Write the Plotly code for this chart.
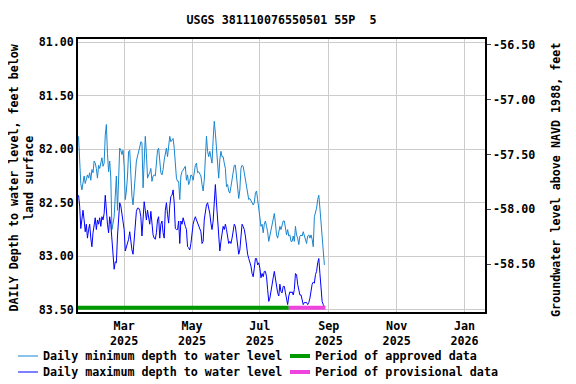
import pandas as pd
import plotly.graph_objects as go

# daily values, one per day starting at start_date (feet below land surface)
start_date = "2025-01-19"
min_depth = [
    81.88, 82.10, 82.32, 82.38, 82.29, 82.25, 82.32, 82.29, 82.24, 82.27,
    82.22, 82.29, 82.19, 82.22, 82.11, 82.13, 82.18, 82.27, 82.15, 82.18,
    82.13, 82.08, 82.16, 82.13, 81.87, 81.77, 82.04, 82.21, 82.11, 82.27,
    82.75, 82.66, 82.63, 82.44, 82.25, 82.57, 82.25, 81.99, 82.01, 82.05,
    82.01, 82.16, 82.47, 82.39, 82.25, 82.02, 82.01, 82.29, 82.44, 82.52,
    82.41, 82.25, 82.11, 82.07, 82.04, 81.98, 81.93, 81.94, 82.36, 82.07,
    81.88, 82.04, 82.27, 82.24, 82.22, 82.18, 82.30, 82.25, 82.24, 82.25,
    82.11, 82.01, 81.99, 82.16, 82.22, 82.24, 82.19, 82.10, 82.04, 81.99,
    82.07, 81.98, 81.88, 81.93, 81.91, 81.90, 81.99, 82.16, 82.27, 82.30,
    82.30, 82.47, 82.25, 82.21, 82.19, 82.18, 82.16, 82.29, 82.24, 82.33,
    82.30, 82.24, 82.25, 82.29, 82.21, 82.15, 82.13, 82.22, 82.21, 82.24,
    82.25, 82.33, 82.39, 82.29, 82.04, 81.88, 82.02, 82.07, 82.02, 82.08,
    82.13, 81.91, 81.74, 81.85, 82.01, 82.16, 82.27, 82.10, 82.02, 82.07,
    82.07, 82.13, 82.18, 82.35, 82.33, 82.39, 82.41, 82.35, 82.29, 82.21,
    82.15, 82.15, 82.24, 82.35, 82.46, 82.38, 82.18, 82.15, 82.16, 82.22,
    82.29, 82.36, 82.44, 82.47, 82.46, 82.49, 82.50, 82.52, 82.50, 82.41,
    82.39, 82.47, 82.55, 82.63, 82.72, 82.70, 82.78, 82.70, 82.67, 82.72,
    82.77, 82.86, 82.81, 82.74, 82.70, 82.64, 82.60, 82.69, 82.80, 82.83,
    82.77, 82.72, 82.75, 82.70, 82.67, 82.67, 82.72, 82.80, 82.75, 82.81,
    82.80, 82.86, 82.86, 82.81, 82.86, 82.72, 82.80, 82.83, 82.89, 82.81,
    82.80, 82.81, 82.77, 82.81, 82.84, 82.88, 82.81, 82.80, 82.83, 82.80,
    82.84, 82.91, 82.63, 82.60, 82.55, 82.47, 82.43, 82.55, 82.70, 82.88,
    82.98, 83.08,
]
max_depth = [
    82.43, 82.53, 82.74, 82.63, 82.57, 82.66, 82.77, 82.70, 82.83, 82.75,
    82.70, 82.83, 82.91, 82.78, 82.72, 82.64, 82.75, 82.66, 82.70, 82.64,
    82.72, 82.63, 82.66, 82.60, 82.43, 82.63, 82.70, 82.78, 82.63, 82.70,
    82.88, 83.06, 83.12, 83.05, 83.06, 82.81, 82.66, 82.50, 82.53, 82.60,
    82.66, 82.75, 82.95, 82.92, 82.89, 82.84, 82.77, 82.88, 82.94, 82.98,
    82.86, 82.70, 82.58, 82.55, 82.55, 82.57, 82.63, 82.81, 82.63, 82.49,
    82.57, 82.66, 82.57, 82.66, 82.70, 82.58, 82.74, 82.80, 82.83, 82.84,
    82.78, 82.66, 82.63, 82.83, 82.70, 82.67, 82.78, 82.83, 82.57, 82.50,
    82.61, 82.69, 82.53, 82.44, 82.43, 82.38, 82.50, 82.74, 82.75, 82.75,
    82.67, 82.88, 82.67, 82.70, 82.64, 82.70, 82.72, 82.75, 82.91, 82.92,
    82.94, 82.88, 82.75, 82.70, 82.66, 82.63, 82.66, 82.69, 82.72, 82.75,
    82.77, 82.88, 82.86, 82.66, 82.57, 82.52, 82.50, 82.55, 82.60, 82.69,
    82.75, 82.67, 82.44, 82.33, 82.50, 82.66, 82.89, 82.95, 82.86, 82.80,
    82.72, 82.75, 82.70, 82.75, 82.84, 82.88, 82.86, 82.88, 82.83, 82.74,
    82.70, 82.72, 82.83, 82.94, 82.98, 82.94, 82.83, 82.70, 82.72, 82.75,
    82.81, 82.91, 82.98, 83.02, 83.06, 83.09, 83.16, 83.19, 83.11, 83.02,
    83.02, 83.08, 83.06, 83.11, 83.20, 83.16, 83.19, 83.14, 83.14, 83.19,
    83.31, 83.42, 83.39, 83.31, 83.28, 83.20, 83.14, 83.22, 83.26, 83.34,
    83.37, 83.26, 83.33, 83.34, 83.28, 83.28, 83.34, 83.40, 83.45, 83.37,
    83.33, 83.34, 83.33, 83.36, 83.31, 83.16, 83.17, 83.26, 83.33, 83.36,
    83.36, 83.40, 83.45, 83.43, 83.43, 83.43, 83.45, 83.43, 83.39, 83.31,
    83.26, 83.24, 83.25, 83.17, 83.14, 83.06, 83.02, 83.16, 83.29, 83.42,
    83.45, 83.47,
]

approved_dates = ["2025-01-18", "2025-07-27"]
provisional_dates = ["2025-07-27", "2025-08-29"]
period_depth = 83.48

tick_dates = ["2025-03-01", "2025-05-01", "2025-07-01", "2025-09-01", "2025-11-01", "2026-01-01"]
tick_labels = ["Mar<br>2025", "May<br>2025", "Jul<br>2025", "Sep<br>2025", "Nov<br>2025", "Jan<br>2026"]
left_ticks = [81.0, 81.5, 82.0, 82.5, 83.0, 83.5]
right_ticks = [-56.5, -57.0, -57.5, -58.0, -58.5]

dates = pd.date_range(start_date, periods=len(min_depth), freq="D")
font = dict(family="DejaVu Sans Mono", size=11.7, color="black", weight="bold")

# the page body adds an 8px margin, so the figure is 8px smaller and shifted
OFF = 8
W, H = 576 - OFF, 384 - OFF
L, T = 78 - OFF, 39 - OFF
R, B = W - (485 - OFF), H - (312 - OFF)
pw, ph = W - L - R, H - T - B


def px(x):
    return (x - OFF - L) / pw


def py(y):
    return (H - B - (y - OFF)) / ph


series = [
    ("Daily minimum depth to water level", dates, min_depth, "#1a86d0", 1),
    ("Daily maximum depth to water level", dates, max_depth, "#0000ff", 1),
    ("Period of approved data", approved_dates, [period_depth] * 2, "#009900", 4),
    ("Period of provisional data", provisional_dates, [period_depth] * 2, "#ee44dd", 4),
]

fig = go.Figure()
for name, xs, ys, color, width in series:
    fig.add_trace(go.Scatter(x=xs, y=ys, mode="lines", name=name,
                             line=dict(color=color, width=width), showlegend=False))
# invisible trace so the right axis gets drawn
fig.add_trace(go.Scatter(x=[dates[0]], y=[-57.0], yaxis="y2", mode="markers", opacity=0,
                         showlegend=False, hoverinfo="skip"))

# legend drawn by hand: two columns, two rows
legend_pos = [(18, 356), (18, 372), (290, 356), (290, 372)]
shapes = []
annotations = []
for (name, _, _, color, width), (lx, ly) in zip(series, legend_pos):
    shapes.append(dict(type="line", xref="paper", yref="paper", x0=px(lx), x1=px(lx + 20),
                       y0=py(ly), y1=py(ly), line=dict(color=color, width=width)))
    annotations.append(dict(text=name, x=px(lx + 23), y=py(ly), xref="paper", yref="paper",
                            xanchor="left", yanchor="middle", showarrow=False, font=font))

annotations.append(dict(text="DAILY Depth to water level, feet below<br>land surface", x=px(20.5), y=py(178),
                        xref="paper", yref="paper", xanchor="center", yanchor="middle",
                        textangle=-90, showarrow=False, font=font))
annotations.append(dict(text="Groundwater level above NAVD 1988, feet", x=px(556), y=py(180),
                        xref="paper", yref="paper", xanchor="center", yanchor="middle",
                        textangle=-90, showarrow=False, font=font))

fig.update_layout(
    width=W, height=H,
    margin=dict(l=L, r=R, t=T, b=B),
    paper_bgcolor="white", plot_bgcolor="white",
    font=font,
    showlegend=False,
    title=dict(text="USGS 381110076550501 55P\u00a0\u00a05", x=0.5, xref="paper",
               y=1 - (20 - OFF) / H, yref="container", yanchor="middle", font=font),
    xaxis=dict(range=["2025-01-18 12:00", "2026-01-19 10:00"], tickvals=tick_dates, ticktext=tick_labels,
               showgrid=True, gridcolor="#cccccc", gridwidth=1, ticks="", showline=True,
               linecolor="black", linewidth=1.5, mirror=True, tickfont=font, automargin=False,
               ticklabelstandoff=2),
    yaxis=dict(range=[83.519, 80.972], tickvals=left_ticks, ticktext=["%.2f" % v for v in left_ticks],
               showgrid=True, gridcolor="#cccccc", gridwidth=1, ticks="", showline=True,
               linecolor="black", linewidth=1.5, tickfont=font, zeroline=False, automargin=False),
    yaxis2=dict(range=[-58.936, -56.448], overlaying="y", side="right", tickvals=right_ticks,
                ticktext=["%.2f" % v for v in right_ticks], showgrid=False, ticks="outside", ticklen=4,
                showline=True, linecolor="black", linewidth=1.5, tickfont=font, zeroline=False,
                automargin=False),
    shapes=shapes,
    annotations=annotations,
)

fig.write_html("out.html")
